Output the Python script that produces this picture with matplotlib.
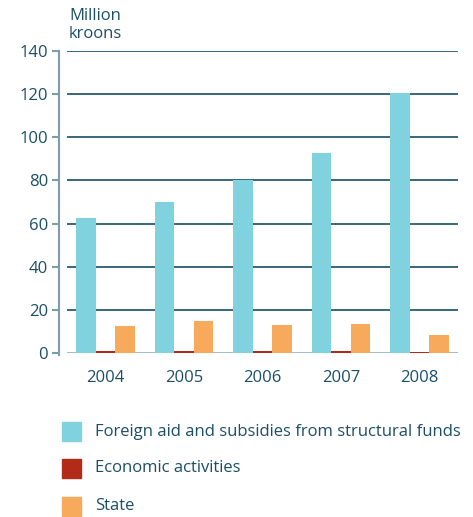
import matplotlib
matplotlib.use("Agg")
import matplotlib.pyplot as plt
from matplotlib.patches import Rectangle
import numpy as np

years = ["2004", "2005", "2006", "2007", "2008"]
foreign_aid = [62.6, 70.0, 80.3, 92.8, 120.5]
economic = [0.9, 0.9, 0.9, 0.9, 0.5]
state = [12.5, 14.8, 13.0, 13.5, 8.3]
series_names = ["Foreign aid and subsidies from structural funds", "Economic activities", "State"]
colors = ["#80d2df", "#b12b18", "#f8aa5c"]
yticks = [0, 20, 40, 60, 80, 100, 120, 140]

text_color = "#1b4f67"
plt.rcParams['font.family'] = ['Open Sans', 'DejaVu Sans']

fig = plt.figure(figsize=(4.73, 5.17), dpi=100)
W, H = 473, 517
ax = fig.add_axes([59 / W, 1 - 353 / H, (458 - 59) / W, (353 - 51) / H])

x = np.arange(len(years))
bw = 0.25
ax.hlines([t for t in yticks if t > 0], -0.49, 4.49, color="#2a5a70", lw=1.3, zorder=1)
ax.hlines([0], -0.49, 4.49, color="#9fb4bf", lw=1.3, zorder=1)
for i, (vals, c) in enumerate(zip([foreign_aid, economic, state], colors)):
    ax.bar(x + (i - 1) * bw, vals, width=bw, color=c, zorder=2, linewidth=0)

ax.set_xlim(-0.592, 4.49)
ax.set_ylim(0, 140)
for s in ["top", "right", "bottom"]:
    ax.spines[s].set_visible(False)
ax.spines["left"].set_color("#7d9dac")
ax.spines["left"].set_linewidth(1.5)
ax.spines["left"].set_bounds(-1, 140)
ax.set_yticks(yticks)
ax.set_yticklabels([str(t) for t in yticks])
ax.tick_params(axis="y", length=5, width=1.5, color="#7d9dac", labelcolor=text_color,
               labelsize=12, pad=3)
ax.set_xticks(x)
ax.set_xticklabels(years)
ax.tick_params(axis="x", length=0, labelcolor=text_color, labelsize=12, pad=12)

fig.text(69 / W, 1 - 8 / H, "Million\nkroons", ha="left", va="top", color=text_color,
         fontsize=12, linespacing=1.2)

legend_y = [431.5, 468.5, 506.5]
for name, c, yy in zip(series_names, colors, legend_y):
    fig.patches.append(Rectangle((62 / W, 1 - (yy + 9.5) / H), 19 / W, 19 / H,
                                 transform=fig.transFigure, color=c, figure=fig))
    fig.text(95 / W, 1 - yy / H, name, ha="left", va="center", color=text_color, fontsize=12)

fig.savefig("out.png", dpi=100)
